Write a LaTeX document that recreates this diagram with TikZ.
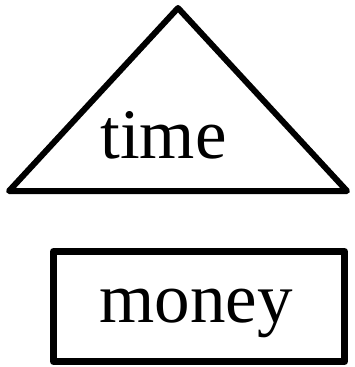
\documentclass[tikz,border=0pt]{standalone}
\usepackage{fontspec}
\setmainfont{Liberation Serif}

\begin{document}
\begin{tikzpicture}[x=1pt, y=-1pt, line join=round]
        \useasboundingbox (0,0) rectangle (354,367);
        \tikzset{word/.style={anchor=base, inner sep=0pt, font=\fontsize{71}{71}\selectfont}}
        % ==== TRIANGLE ====
        \coordinate (apex) at (178,8);
        \coordinate (baseL) at (9,191);
        \coordinate (baseR) at (347,191);
        \draw[line width=6pt] (apex) -- (baseR) -- (baseL) -- cycle;
        \node[word] (time) at (163.5,158) {time};

        % ==== BOX ====
        \node[draw, line width=7pt, minimum width=291pt, minimum height=110pt, inner sep=0pt] (box) at (199,306.5) {};
        \node[word] (money) at (196,322) {money};
\end{tikzpicture}
\end{document}
